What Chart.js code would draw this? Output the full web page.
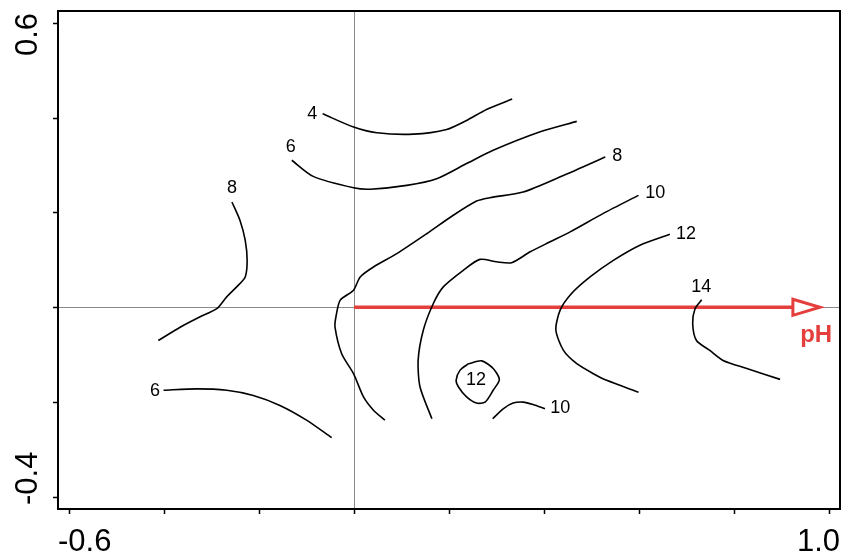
<!DOCTYPE html>
<html>
<head>
<meta charset="utf-8">
<script src="https://cdn.jsdelivr.net/npm/chart.js@4.4.1/dist/chart.umd.min.js"></script>
<style>
  body { margin:0; background:#fff; }
  #wrap { width:842px; height:555px; }
</style>
</head>
<body>
<div id="wrap"><canvas id="myChart" width="842" height="555"></canvas></div>
<script>
// axis ticks (only the end ones are labelled)
const xTicks = [-0.6,-0.4,-0.2,0,0.2,0.4,0.6,0.8,1.0];
const xTickLabels = ['-0.6','','','','','','','','1.0'];
const yTicks = [0.6,0.4,0.2,0,-0.2,-0.4];
const yTickLabels = ['0.6','','','','','-0.4'];

// contour lines, [x,y] pairs
const line4 = [[-0.066,0.408],[-0.001,0.380],[0.048,0.368],[0.125,0.365],[0.195,0.375],[0.237,0.394],[0.279,0.417],[0.333,0.439]];
const line6top = [[-0.131,0.310],[-0.086,0.276],[-0.001,0.252],[0.034,0.249],[0.111,0.257],[0.174,0.271],[0.237,0.303],[0.293,0.331],[0.392,0.370],[0.469,0.392]];
const line8right = [[0.529,0.317],[0.441,0.278],[0.356,0.243],[0.286,0.231],[0.258,0.224],[0.209,0.194],[0.153,0.155],[0.090,0.113],[0.041,0.085],[0.013,0.064],[-0.001,0.036],[-0.029,0.015],[-0.038,-0.020],[-0.040,-0.042],[-0.026,-0.098],[-0.001,-0.140],[0.020,-0.189],[0.041,-0.217],[0.065,-0.238]];
const line10 = [[0.599,0.236],[0.525,0.198],[0.455,0.159],[0.413,0.138],[0.371,0.117],[0.332,0.094],[0.300,0.096],[0.265,0.101],[0.230,0.078],[0.188,0.043],[0.167,0.008],[0.146,-0.048],[0.135,-0.112],[0.139,-0.168],[0.164,-0.235]];
const line12 = [[0.665,0.154],[0.602,0.131],[0.546,0.099],[0.497,0.064],[0.458,0.029],[0.434,-0.006],[0.425,-0.048],[0.441,-0.091],[0.469,-0.119],[0.504,-0.140],[0.532,-0.154],[0.599,-0.179]];
const line14 = [[0.732,0.016],[0.718,-0.003],[0.713,-0.034],[0.721,-0.070],[0.749,-0.091],[0.777,-0.112],[0.827,-0.129],[0.897,-0.152]];
const line12closed = [[0.241,-0.119],[0.269,-0.113],[0.293,-0.129],[0.306,-0.152],[0.293,-0.175],[0.276,-0.200],[0.258,-0.202],[0.237,-0.189],[0.220,-0.168],[0.215,-0.154],[0.223,-0.133],[0.241,-0.119]];
const line10small = [[0.292,-0.235],[0.314,-0.214],[0.335,-0.202],[0.356,-0.200],[0.377,-0.205],[0.402,-0.214]];
const line8left = [[-0.257,0.222],[-0.240,0.183],[-0.229,0.141],[-0.225,0.099],[-0.229,0.064],[-0.247,0.043],[-0.268,0.022],[-0.289,-0.003],[-0.324,-0.020],[-0.366,-0.042],[-0.412,-0.070]];
const line6bottom = [[-0.401,-0.175],[-0.331,-0.172],[-0.268,-0.175],[-0.212,-0.186],[-0.156,-0.207],[-0.100,-0.238],[-0.047,-0.275]];

// contour labels
const labelText = ['4','6','8','8','10','12','14','12','10','6'];
const labelX = [-0.088,-0.133,-0.257,0.554,0.634,0.699,0.731,0.257,0.434,-0.419];
const labelY = [0.407,0.337,0.251,0.318,0.240,0.154,0.042,-0.154,-0.213,-0.177];

// pH arrow
const arrowShaftX = [0,0.924];
const arrowTipX = 0.981;
const arrowHalf = 0.017;
const arrowName = 'pH';
const arrowNameX = 0.973;
const arrowNameY = -0.074;

const RED = '#e53f3d';
const FONT = '"Liberation Sans", Arial, sans-serif';

function toPts(arr)
{
  return arr.map(p => ({x:p[0], y:p[1]}));
}
function contourSet(arr)
{
  return {
    data: toPts(arr),
    showLine: true,
    borderColor: '#000',
    borderWidth: 1.6,
    pointRadius: 0,
    tension: 0.25,
    fill: false
  };
}

const datasets = [line4,line6top,line8right,line10,line12,line14,line12closed,line10small,line8left,line6bottom].map(contourSet);
datasets.push({
  data: arrowShaftX.map(v => ({x:v, y:0})),
  showLine: true,
  borderColor: RED,
  borderWidth: 3.5,
  pointRadius: 0
});

// grey cross at the origin, drawn under the lines
const crossPlugin = {
  id: 'cross',
  beforeDatasetsDraw(chart) {
    const {ctx, chartArea:a, scales:{x, y}} = chart;
    ctx.save();
    ctx.strokeStyle = '#8a8a8a';
    ctx.lineWidth = 1;
    const x0 = Math.round(x.getPixelForValue(0)) + 0.5;
    const y0 = Math.round(y.getPixelForValue(0)) + 0.5;
    ctx.beginPath();
    ctx.moveTo(x0, a.top); ctx.lineTo(x0, a.bottom);
    ctx.moveTo(a.left, y0); ctx.lineTo(a.right, y0);
    ctx.stroke();
    ctx.restore();
  }
};

// frame, ticks, labels, arrowhead
const decorPlugin = {
  id: 'decor',
  afterDatasetsDraw(chart) {
    const {ctx, chartArea:a, scales:{x, y}} = chart;
    ctx.save();
    // arrowhead (open triangle)
    const bx = x.getPixelForValue(arrowShaftX[1]);
    const tx = x.getPixelForValue(arrowTipX);
    const y0 = y.getPixelForValue(0);
    const hh = y.getPixelForValue(0) - y.getPixelForValue(arrowHalf);
    ctx.strokeStyle = RED;
    ctx.fillStyle = '#fff';
    ctx.lineWidth = 3;
    ctx.lineJoin = 'miter';
    ctx.beginPath();
    ctx.moveTo(bx, y0 - hh);
    ctx.lineTo(tx, y0);
    ctx.lineTo(bx, y0 + hh);
    ctx.closePath();
    ctx.fill();
    ctx.stroke();
    ctx.fillStyle = RED;
    ctx.font = 'bold 24px ' + FONT;
    ctx.textAlign = 'center';
    ctx.textBaseline = 'alphabetic';
    ctx.fillText(arrowName, x.getPixelForValue(arrowNameX), y.getPixelForValue(arrowNameY));

    // contour labels
    ctx.fillStyle = '#000';
    ctx.font = '18px ' + FONT;
    ctx.textBaseline = 'middle';
    for (var i = 0; i < labelText.length; i++)
      ctx.fillText(labelText[i], x.getPixelForValue(labelX[i]), y.getPixelForValue(labelY[i]));
    ctx.restore();
  },
  afterDraw(chart) {
    const {ctx, chartArea:a, scales:{x, y}} = chart;
    ctx.save();
    ctx.strokeStyle = '#000';
    ctx.lineWidth = 2;
    ctx.strokeRect(a.left, a.top, a.right - a.left, a.bottom - a.top);
    ctx.lineWidth = 1.5;
    ctx.beginPath();
    for (var i = 0; i < xTicks.length; i++) {
      const px = Math.round(x.getPixelForValue(xTicks[i])) + 0.5;
      ctx.moveTo(px, a.bottom); ctx.lineTo(px, a.bottom + 5);
    }
    for (var j = 0; j < yTicks.length; j++) {
      const py = Math.round(y.getPixelForValue(yTicks[j])) + 0.5;
      ctx.moveTo(a.left, py); ctx.lineTo(a.left - 5, py);
    }
    ctx.stroke();

    ctx.fillStyle = '#000';
    ctx.font = '31px ' + FONT;
    ctx.textBaseline = 'alphabetic';
    // end labels are pushed inside the frame edges
    for (var i = 0; i < xTicks.length; i++) {
      if (!xTickLabels[i]) continue;
      let px = x.getPixelForValue(xTicks[i]);
      if (i == 0) { ctx.textAlign = 'left'; px = a.left; }
      else if (i == xTicks.length - 1) { ctx.textAlign = 'right'; px = a.right; }
      else ctx.textAlign = 'center';
      ctx.fillText(xTickLabels[i], px, 551);
    }
    for (var j = 0; j < yTicks.length; j++) {
      if (!yTickLabels[j]) continue;
      let py = y.getPixelForValue(yTicks[j]);
      ctx.save();
      if (j == 0) { ctx.textAlign = 'right'; py = a.top + 2; }
      else if (j == yTicks.length - 1) { ctx.textAlign = 'left'; py = a.bottom - 4; }
      else ctx.textAlign = 'center';
      ctx.translate(37, py);
      ctx.rotate(-Math.PI / 2);
      ctx.fillText(yTickLabels[j], 0, 0);
      ctx.restore();
    }
    ctx.restore();
  }
};

const ctx = document.getElementById('myChart').getContext('2d');
const myChart = new Chart(ctx, {
  type: 'scatter',
  data: { datasets: datasets },
  options: {
    responsive: false,
    animation: false,
    layout: { padding: { left: 58, top: 11, right: 2, bottom: 46 } },
    plugins: { legend: { display: false }, tooltip: { enabled: false } },
    scales: {
      x: { type: 'linear', min: -0.6232, max: 1.0232, display: false },
      y: { type: 'linear', min: -0.4253, max: 0.6247, display: false }
    }
  },
  plugins: [crossPlugin, decorPlugin]
});
</script>
</body>
</html>
